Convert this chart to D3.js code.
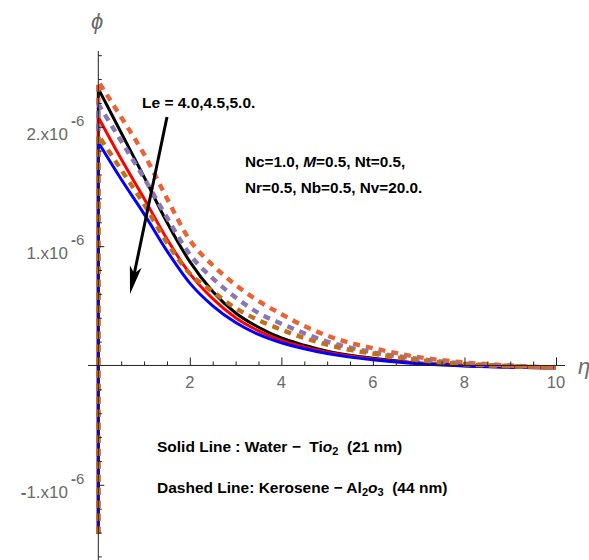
<!DOCTYPE html>
<html>
<head>
<meta charset="utf-8">
<script src="https://cdn.jsdelivr.net/npm/d3@7/dist/d3.min.js"></script>
<style>
  body { margin: 0; background: #fff; }
  svg { display: block; }
  text { font-family: "Liberation Sans", Arial, sans-serif; }
</style>
</head>
<body>
<svg id="chart" width="589" height="560"></svg>
<script>
// Concentration profiles φ(η), values in units of 10^-6
const eta = [0, 0.5, 1, 1.5, 2, 2.5, 3, 3.5, 4, 4.5, 5, 5.5, 6, 7, 8, 9, 10];
const wallPhi = -1.41; // value at the wall, η = 0

// Solid lines: Water – TiO2 (Le = 4.0, 4.5, 5.0)
const waterLe40 = [2.32, 1.95, 1.58, 1.20, 0.87, 0.62, 0.44, 0.32, 0.23, 0.17, 0.12, 0.085, 0.06, 0.02, 0.0, -0.012, -0.02];
const waterLe45 = [2.08, 1.73, 1.40, 1.06, 0.77, 0.56, 0.40, 0.29, 0.21, 0.155, 0.11, 0.08, 0.055, 0.018, -0.002, -0.013, -0.02];
const waterLe50 = [1.87, 1.56, 1.27, 0.96, 0.69, 0.50, 0.36, 0.26, 0.19, 0.14, 0.10, 0.07, 0.048, 0.014, -0.004, -0.014, -0.022];
// Dashed lines: Kerosene – Al2O3 (Le = 4.0, 4.5, 5.0)
const keroLe40 = [2.38, 2.08, 1.77, 1.40, 1.05, 0.84, 0.675, 0.54, 0.43, 0.33, 0.25, 0.19, 0.145, 0.07, 0.025, 0.0, -0.02];
const keroLe45 = [2.19, 1.88, 1.57, 1.24, 0.93, 0.73, 0.57, 0.44, 0.35, 0.27, 0.20, 0.15, 0.11, 0.055, 0.015, -0.005, -0.02];
const keroLe50 = [1.93, 1.64, 1.35, 1.03, 0.77, 0.62, 0.48, 0.38, 0.30, 0.23, 0.175, 0.13, 0.10, 0.045, 0.01, -0.007, -0.02];

const xMajorTicks = [2, 4, 6, 8, 10];
const xTickLabels = ["2", "4", "6", "8", "10"];
const yMajorTicks = [-1, 1, 2];
const yTickSigns = ["-", "", ""];
const yTickLabels = ["1.x10", "1.x10", "2.x10"];
const yTickExponent = "6";

const series = [
  { values: waterLe40, color: "#000000", dashed: false },
  { values: waterLe45, color: "#ff0000", dashed: false },
  { values: waterLe50, color: "#0000ff", dashed: false },
  { values: keroLe40, color: "#EB6235", dashed: true },
  { values: keroLe45, color: "#8778B3", dashed: true },
  { values: keroLe50, color: "#C56E1A", dashed: true }
];

const svg = d3.select("#chart");
const x = d3.scaleLinear().domain([0, 10]).range([98.3, 556]);
const y = d3.scaleLinear().domain([-1, 2]).range([484.8, 126.8]);

const axisColor = "#222";
const labelColor = "#6a6a6a";

// Minor tick positions
const xMinor = d3.range(0.5, 10.01, 0.5).filter(v => !xMajorTicks.some(m => Math.abs(m - v) < 1e-9));
const yMinor = d3.range(-1.6, 2.61, 0.2).map(v => +v.toFixed(1))
  .filter(v => v !== 0 && !yMajorTicks.some(m => Math.abs(m - v) < 1e-9));

// Curves: vertical wall segment at η = 0, then the smooth profile
const line = d3.line().x(d => x(d[0])).y(d => y(d[1])).curve(d3.curveMonotoneX);
series.forEach(s => {
  const pts = eta.map((e, i) => [e, s.values[i]]);
  const d = `M${x(0)},${y(wallPhi)}` + line(pts).replace(/^M/, "L");
  svg.append("path")
    .attr("d", d)
    .attr("fill", "none")
    .attr("stroke", s.color)
    .attr("stroke-width", s.dashed ? 4.4 : 3)
    .attr("stroke-dasharray", s.dashed ? "7,6" : null)
    .attr("stroke-linejoin", "round");
});

// X axis
const xAxisMinor = d3.axisBottom(x).tickValues(xMinor).tickSizeInner(-4).tickSizeOuter(0).tickFormat("");
const xAxisMajor = d3.axisBottom(x).tickValues(xMajorTicks).tickSizeInner(-8).tickSizeOuter(0).tickFormat("");
[xAxisMinor, xAxisMajor].forEach(ax => {
  const g = svg.append("g").attr("transform", `translate(0,${y(0)})`).call(ax);
  g.select(".domain").remove();
  g.selectAll("line").attr("stroke", axisColor);
});
svg.append("line")
  .attr("x1", 88).attr("x2", 565).attr("y1", y(0)).attr("y2", y(0))
  .attr("stroke", axisColor).attr("stroke-width", 1);
svg.selectAll(".xlab").data(xMajorTicks).enter().append("text")
  .attr("class", "xlab")
  .attr("x", d => x(d)).attr("y", y(0) + 23)
  .attr("text-anchor", "middle")
  .attr("font-size", 16.5).attr("fill", labelColor)
  .text((d, i) => xTickLabels[i]);

// Y axis
const yAxisMinor = d3.axisRight(y).tickValues(yMinor).tickSizeInner(3.5).tickSizeOuter(0).tickFormat("");
const yAxisMajor = d3.axisRight(y).tickValues(yMajorTicks).tickSizeInner(6).tickSizeOuter(0).tickFormat("");
[yAxisMinor, yAxisMajor].forEach(ax => {
  const g = svg.append("g").attr("transform", `translate(${x(0)},0)`).call(ax);
  g.select(".domain").remove();
  g.selectAll("line").attr("stroke", axisColor);
});
svg.append("line")
  .attr("x1", x(0)).attr("x2", x(0)).attr("y1", 51).attr("y2", 560)
  .attr("stroke", axisColor).attr("stroke-width", 1);

// Tick labels of the form  1.x10^-6  (minus signs drawn heavy)
const yLab = svg.selectAll(".ylab").data(yMajorTicks).enter().append("g").attr("class", "ylab");
const mainLab = yLab.append("text")
  .attr("x", 68).attr("y", d => y(d) + 13)
  .attr("text-anchor", "end")
  .attr("font-size", 17).attr("fill", labelColor);
mainLab.append("tspan").attr("font-weight", "bold").text((d, i) => yTickSigns[i]);
mainLab.append("tspan").text((d, i) => yTickLabels[i]);
const expLab = yLab.append("text")
  .attr("x", 71).attr("y", d => y(d) - 1)
  .attr("font-size", 15).attr("fill", labelColor);
expLab.append("tspan").attr("font-weight", "bold").text("-");
expLab.append("tspan").text(yTickExponent);

// Axis titles
svg.append("text")
  .attr("x", 97).attr("y", 29)
  .attr("text-anchor", "middle")
  .attr("font-size", 22).attr("font-style", "italic").attr("fill", labelColor)
  .text("\u03D5");
svg.append("text")
  .attr("x", 578).attr("y", 374)
  .attr("font-size", 22).attr("font-style", "italic").attr("fill", labelColor)
  .text("\u03B7");

// Arrow marking increasing Le
const arrowFrom = [167, 117], arrowTip = [130, 294];
const dx = arrowTip[0] - arrowFrom[0], dy = arrowTip[1] - arrowFrom[1];
const len = Math.hypot(dx, dy), ux = dx / len, uy = dy / len, px = -uy, py = ux;
const headLen = 28, headHalf = 6, notch = 7;
const base = [arrowTip[0] - ux * headLen, arrowTip[1] - uy * headLen];
svg.append("line")
  .attr("x1", arrowFrom[0]).attr("y1", arrowFrom[1])
  .attr("x2", base[0] + ux * notch).attr("y2", base[1] + uy * notch)
  .attr("stroke", "#000").attr("stroke-width", 3);
svg.append("path")
  .attr("d", d3.line()([
    arrowTip,
    [base[0] + px * headHalf, base[1] + py * headHalf],
    [base[0] + ux * notch, base[1] + uy * notch],
    [base[0] - px * headHalf, base[1] - py * headHalf]
  ]) + "Z")
  .attr("fill", "#000");

// Annotations
svg.append("text")
  .attr("x", 142).attr("y", 108)
  .attr("font-size", 15.5).attr("font-weight", "bold")
  .text("Le = 4.0,4.5,5.0.");

const p1 = svg.append("text").attr("x", 245).attr("y", 167)
  .attr("font-size", 15.3).attr("font-weight", "bold");
p1.append("tspan").text("Nc=1.0, ");
p1.append("tspan").attr("font-style", "italic").text("M");
p1.append("tspan").text("=0.5, Nt=0.5,");
svg.append("text").attr("x", 245).attr("y", 193)
  .attr("font-size", 15.3).attr("font-weight", "bold")
  .text("Nr=0.5, Nb=0.5, Nv=20.0.");

const l1 = svg.append("text").attr("x", 157).attr("y", 452)
  .attr("font-size", 15.5).attr("font-weight", "bold").attr("xml:space", "preserve");
l1.append("tspan").text("Solid Line : Water \u2212  Ti");
l1.append("tspan").attr("font-style", "italic").text("o");
l1.append("tspan").attr("font-size", 11).attr("dy", 3).text("2");
l1.append("tspan").attr("dy", -3).text("  (21 nm)");

const l2 = svg.append("text").attr("x", 157).attr("y", 493)
  .attr("font-size", 15.5).attr("font-weight", "bold").attr("xml:space", "preserve");
l2.append("tspan").text("Dashed Line: Kerosene \u2212 Al");
l2.append("tspan").attr("font-size", 11).attr("dy", 3).text("2");
l2.append("tspan").attr("dy", -3).attr("font-style", "italic").text("o");
l2.append("tspan").attr("font-size", 11).attr("dy", 3).text("3");
l2.append("tspan").attr("dy", -3).text("  (44 nm)");
</script>
</body>
</html>
